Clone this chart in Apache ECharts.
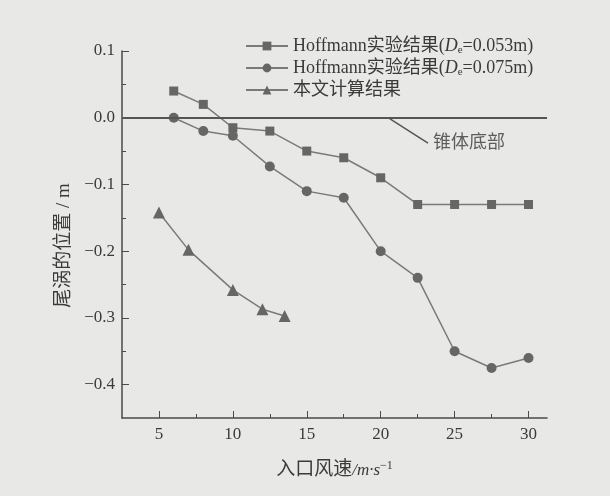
<!DOCTYPE html>
<html><head><meta charset="utf-8">
<script src="https://cdn.jsdelivr.net/npm/echarts@6/dist/echarts.min.js"></script>
<style>html,body{margin:0;background:#e8e8e6}#c{width:610px;height:496px}</style>
</head><body><div id="c"></div>
<script>
const xTicks = [5, 10, 15, 20, 25, 30];
const xMinorTicks = [7.5, 12.5, 17.5, 22.5, 27.5];
const yTicks = [0.1, 0, -0.1, -0.2, -0.3, -0.4];
const yMinorTicks = [0.05, -0.05, -0.15, -0.25, -0.35];
const seriesNames = ['Hoffmann实验结果(De=0.053m)', 'Hoffmann实验结果(De=0.075m)', '本文计算结果'];
const hoff053 = [[6, 0.04], [8, 0.02], [10, -0.015], [12.5, -0.02], [15, -0.05], [17.5, -0.06], [20, -0.09], [22.5, -0.13], [25, -0.13], [27.5, -0.13], [30, -0.13]];
const hoff075 = [[6, 0.0], [8, -0.02], [10, -0.027], [12.5, -0.073], [15, -0.11], [17.5, -0.12], [20, -0.2], [22.5, -0.24], [25, -0.35], [27.5, -0.375], [30, -0.36]];
const calc = [[5, -0.142], [7, -0.198], [10, -0.258], [12, -0.287], [13.5, -0.297]];
const annotText = '锥体底部';
const annotLine = [[20.5, 0], [23.2, -0.038]];
const zeroLine = [[2.5, 0], [31.25, 0]];

const FF = '"Liberation Serif", "Noto Sans CJK SC", serif';
const TXT = '#3a3a3a';
const AX = '#4a4a4a';
const LN = '#7a7a7a';
const MK = '#666666';

const chart = echarts.init(document.getElementById('c'));
const legendFmt = {
  [seriesNames[0]]: 'Hoffmann实验结果({i|D}{s|e}=0.053m)',
  [seriesNames[1]]: 'Hoffmann实验结果({i|D}{s|e}=0.075m)',
  [seriesNames[2]]: '本文计算结果'
};
function lineSeries(name, data, symbol, size) {
  return {
    name, type: 'line', data, symbol, symbolSize: size,
    lineStyle: { color: LN, width: 1.5 },
    itemStyle: { color: MK },
    z: 3
  };
}
const s1 = lineSeries(seriesNames[0], hoff053, 'rect', 9);
s1.markLine = {
  silent: true, symbol: 'none', animation: false,
  label: { show: false },
  data: [
    [{ coord: zeroLine[0], lineStyle: { color: '#555', width: 2, type: 'solid' } }, { coord: zeroLine[1] }],
    [{ coord: annotLine[0], lineStyle: { color: '#555', width: 1.5, type: 'solid' } }, { coord: annotLine[1] }]
  ]
};
chart.setOption({
  backgroundColor: '#e8e8e6',
  animation: false,
  grid: { left: 122, right: 63, top: 51, bottom: 78, containLabel: false },
  legend: {
    data: seriesNames, orient: 'vertical', left: 240, top: 32,
    itemWidth: 42, itemHeight: 11, itemGap: 3,
    formatter: n => legendFmt[n],
    textStyle: {
      fontFamily: FF, fontSize: 18, color: TXT,
      rich: {
        i: { fontFamily: FF, fontSize: 18, fontStyle: 'italic', color: TXT },
        s: { fontFamily: FF, fontSize: 11, color: TXT, padding: [9, 0, 0, 0] }
      }
    }
  },
  xAxis: [{
    type: 'value', min: 2.5, max: 31.25,
    name: '入口风速{sm|/m·s}{sup|−1}', nameLocation: 'middle', nameGap: 42,
    nameTextStyle: { fontFamily: FF, fontSize: 19, color: TXT,
      rich: {
        sm: { fontFamily: FF, fontSize: 17, color: TXT, fontStyle: 'italic' },
        sup: { fontFamily: FF, fontSize: 12, color: TXT, padding: [0, 0, 9, 0] }
      } },
    axisLine: { show: true, onZero: false, lineStyle: { color: AX, width: 1.5 } },
    axisTick: { show: true, inside: true, length: 7, customValues: xTicks, lineStyle: { color: AX } },
    axisLabel: { customValues: xTicks, fontFamily: FF, fontSize: 17, color: TXT, margin: 8 },
    splitLine: { show: false }
  }, {
    type: 'value', min: 2.5, max: 31.25, position: 'bottom',
    axisLine: { show: false, onZero: false },
    axisTick: { show: true, inside: true, length: 4, customValues: xMinorTicks, lineStyle: { color: AX } },
    axisLabel: { show: false }, splitLine: { show: false }
  }],
  yAxis: [{
    type: 'value', min: -0.45, max: 0.1,
    name: '尾涡的位置 / m', nameLocation: 'middle', nameGap: 48, nameRotate: 90,
    nameTextStyle: { fontFamily: FF, fontSize: 19, color: TXT, padding: [0, 22, 0, 0] },
    axisLine: { show: true, onZero: false, lineStyle: { color: AX, width: 1.5 } },
    axisTick: { show: true, inside: true, length: 7, customValues: yTicks, lineStyle: { color: AX } },
    axisLabel: {
      customValues: yTicks, fontFamily: FF, fontSize: 17, color: TXT, margin: 7,
      formatter: v => (Math.abs(v) < 1e-9 ? '0.0' : v.toFixed(1).replace('-', '\u2212'))
    },
    splitLine: { show: false }
  }, {
    type: 'value', min: -0.45, max: 0.1, position: 'left',
    axisLine: { show: false, onZero: false },
    axisTick: { show: true, inside: true, length: 4, customValues: yMinorTicks, lineStyle: { color: AX } },
    axisLabel: { show: false }, splitLine: { show: false }
  }],
  series: [
    s1,
    lineSeries(seriesNames[1], hoff075, 'circle', 10),
    lineSeries(seriesNames[2], calc, 'triangle', 12),
    {
      type: 'scatter', silent: true, symbolSize: 0,
      data: [annotLine[1]],
      label: { show: true, position: 'right', distance: 5, formatter: annotText,
        fontFamily: FF, fontSize: 18, color: TXT }
    }
  ]
});
</script></body></html>
